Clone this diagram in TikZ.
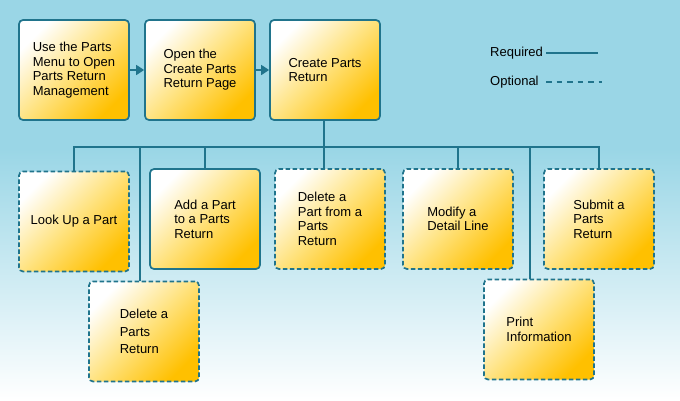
\documentclass[tikz,border=0pt]{standalone}
\usepackage{fontspec}
\setmainfont{Liberation Sans}
\usetikzlibrary{arrows.meta}

\definecolor{skyblue}{RGB}{154,214,230}
\definecolor{paleblue}{RGB}{196,232,241}
\definecolor{tealline}{RGB}{32,116,140}
\definecolor{gold}{RGB}{255,192,0}
\definecolor{cream}{RGB}{255,226,125}

\tikzset{
    task/.style={draw=tealline, line width=1.7pt, rounded corners=4pt,
        shading=axis, top color=white, bottom color=gold, middle color=cream,
        shading angle=45, minimum width=110pt, minimum height=100pt,
        align=left, font=\fontsize{13}{14.5}\selectfont},
    optional/.style={task, dash pattern=on 4.5pt off 2.5pt},
    link/.style={draw=tealline, line width=1.6pt},
    flow/.style={link, -{Triangle[length=8pt,width=10pt]}}
}

\begin{document}
\begin{tikzpicture}[x=1pt, y=1pt]
            % background
            \useasboundingbox (0,0) rectangle (680,-400);
            \fill[skyblue] (0,0) rectangle (680,-150);
            \shade[top color=skyblue, middle color=paleblue, bottom color=white]
                (0,-149.5) rectangle (680,-400);

            % main flow
            \path (74, -70) node[name=menu, task] {Use the Parts\\Menu to Open\\Parts Return\\Management};
            \path (200, -70) node[name=open, task] {Open the\\Create Parts\\Return Page};
            \path (325, -70) node[name=create, task] {Create Parts\\Return};
            \draw[flow] (menu) -- (open);
            \draw[flow] (open) -- (create);

            % branches
            \path (74, -221.5) node[name=lookup, optional] {Look Up a Part};
            \path (144, -331.5) node[name=delreturn, optional, font=\fontsize{13}{17.5}\selectfont] {Delete a\\Parts\\Return};
            \path (205, -219) node[name=addpart, task] {Add a Part\\to a Parts\\Return};
            \path (330, -219) node[name=delpart, optional] {Delete a\\Part from a\\Parts\\Return};
            \path (458, -219) node[name=modify, optional] {Modify a\\Detail Line};
            \path (539, -329.5) node[name=print, optional] {Print\\Information};
            \path (599, -219) node[name=submit, optional] {Submit a\\Parts\\Return};

            \coordinate (bar) at (324, -147);
            \draw[link] (create.south -| bar) -- (delpart.north -| bar);
            \draw[link] (lookup.north) |- (bar) -| (submit.north);
            \draw[link] (addpart.north) -- (addpart.north |- bar);
            \draw[link] (modify.north) -- (modify.north |- bar);
            \draw[link] ([xshift=-4pt]delreturn.north) -- ([xshift=-4pt]delreturn.north |- bar);
            \draw[link] ([xshift=-9pt]print.north) -- ([xshift=-9pt]print.north |- bar);

            % legend
            \path (490, -53) node[name=req, anchor=west, font=\fontsize{13}{14.5}\selectfont, inner sep=0pt] {Required};
            \path (490, -82) node[name=opt, anchor=west, font=\fontsize{13}{14.5}\selectfont, inner sep=0pt] {Optional};
            \coordinate (reqend) at (598, -53);
            \coordinate (optend) at (602, -82);
            \draw[link] (req.east -| 546, 0) -- (reqend);
            \draw[link, dash pattern=on 5.5pt off 5pt] (opt.east -| 546, 0) -- (optend);
\end{tikzpicture}
\end{document}
